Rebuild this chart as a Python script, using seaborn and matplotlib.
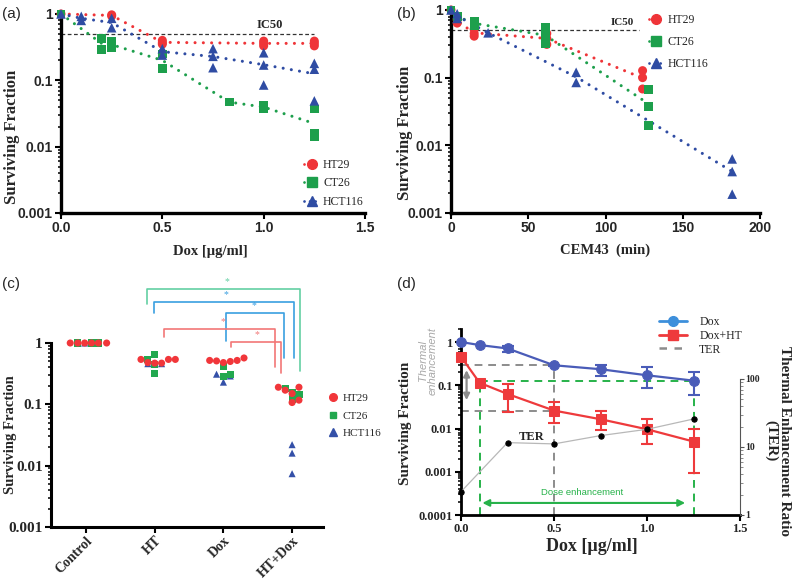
import numpy as np
import pandas as pd
import matplotlib.pyplot as plt
import seaborn as sns
from matplotlib.lines import Line2D
from matplotlib.ticker import FixedLocator, NullFormatter

# ---------------- data ----------------
# (a) surviving fraction vs doxorubicin dose
a_ht29_dose = [0, 0.25, 0.25, 0.5, 0.5, 0.5, 1.0, 1.0, 1.0, 1.25, 1.25, 1.25]
a_ht29_sf = [1.0, 0.97, 0.93, 0.40, 0.37, 0.35, 0.39, 0.36, 0.33, 0.39, 0.36, 0.33]
a_ct26_dose = [0, 0.2, 0.2, 0.25, 0.25, 0.5, 0.5, 0.83, 1.0, 1.0, 1.25, 1.25, 1.25]
a_ct26_sf = [1.0, 0.43, 0.29, 0.38, 0.31, 0.25, 0.15, 0.047, 0.042, 0.037, 0.037, 0.016, 0.014]
a_hct_dose = [0, 0.1, 0.1, 0.25, 0.25, 0.5, 0.5, 0.75, 0.75, 0.75, 1.0, 1.0, 1.0, 1.25, 1.25, 1.25]
a_hct_sf = [1.0, 0.92, 0.80, 0.86, 0.62, 0.30, 0.24, 0.30, 0.23, 0.155, 0.26, 0.17, 0.085, 0.18, 0.147, 0.049]

# (b) surviving fraction vs thermal dose (CEM43 minutes)
b_ht29_t = [0, 4, 4, 15, 15, 15, 62, 62, 62, 124, 124, 124]
b_ht29_sf = [1.0, 0.72, 0.64, 0.52, 0.45, 0.41, 0.45, 0.38, 0.31, 0.127, 0.10, 0.068]
b_ct26_t = [0, 4, 15, 15, 61, 61, 61, 61, 128, 128, 128]
b_ct26_sf = [1.0, 0.80, 0.69, 0.58, 0.55, 0.45, 0.37, 0.32, 0.066, 0.037, 0.0196]
b_hct_t = [0, 4, 4, 24, 81, 81, 182, 182, 182]
b_hct_sf = [1.0, 0.88, 0.75, 0.46, 0.12, 0.085, 0.0063, 0.0041, 0.0019]

ic50 = 0.5

# (c) treatment groups
c_groups = ['Control', 'HT', 'Dox', 'HT+Dox']
c_ht29_grp = ['Control'] * 6 + ['HT'] * 6 + ['Dox'] * 6 + ['HT+Dox'] * 6
c_ht29_sf = [1, 1, 1, 1, 1, 1,
             0.54, 0.48, 0.47, 0.47, 0.54, 0.54,
             0.52, 0.51, 0.48, 0.50, 0.52, 0.57,
             0.19, 0.17, 0.15, 0.19, 0.107, 0.117]
c_ct26_grp = ['Control'] * 3 + ['HT'] * 4 + ['Dox'] * 3 + ['HT+Dox'] * 4
c_ct26_sf = [1, 1, 1,
             0.53, 0.65, 0.44, 0.32,
             0.42, 0.28, 0.31,
             0.18, 0.155, 0.145, 0.12]
c_hct_grp = ['Control'] * 3 + ['HT'] * 3 + ['Dox'] * 3 + ['HT+Dox'] * 3
c_hct_sf = [1, 1, 1,
            0.46, 0.45, 0.46,
            0.31, 0.23, 0.29,
            0.022, 0.016, 0.0074]

# horizontal scatter offsets of the dots inside each group (layout only)
c_ht29_off = [-0.23, -0.12, -0.02, 0.08, 0.18, 0.3,
              -0.2, -0.1, 0, 0.1, 0.2, 0.3,
              -0.2, -0.1, 0, 0.1, 0.2, 0.3,
              -0.2, -0.1, 0, 0.1, 0, 0.1]
c_ct26_off = [-0.12, 0.08, 0.18, -0.1, 0, 0, 0, 0, 0, 0.1, -0.1, 0, 0.1, 0]
c_hct_off = [-0.12, -0.02, 0.08, -0.1, 0, 0.1, -0.1, 0, 0.1, 0, 0, 0]

# (d) Dox alone vs Dox + hyperthermia, HT29
d_dose = [0, 0.1, 0.25, 0.5, 0.75, 1.0, 1.25]
d_dox = [1.0, 0.85, 0.71, 0.29, 0.235, 0.17, 0.128]
d_dox_lo = [1.0, 0.85, 0.60, 0.28, 0.16, 0.085, 0.059]
d_dox_hi = [1.0, 0.85, 0.81, 0.30, 0.30, 0.26, 0.20]
d_doxht = [0.46, 0.114, 0.063, 0.026, 0.0164, 0.0096, 0.005]
d_doxht_lo = [0.46, 0.114, 0.0235, 0.0137, 0.009, 0.0044, 0.00093]
d_doxht_hi = [0.46, 0.114, 0.107, 0.042, 0.025, 0.0165, 0.0098]
d_ter_dose = [0, 0.25, 0.5, 0.75, 1.0, 1.25]
d_ter = [2.2, 11.6, 11.1, 14.7, 18.2, 25.8]

# ---------------- style ----------------
sns.set_theme(style='ticks')
plt.rcParams['font.family'] = ['Liberation Serif', 'DejaVu Serif']

RED = '#ef3438'
GREEN = '#1d9f4c'
BLUE = '#2f4ca3'
DOT = (0, (0.01, 2.7))

SANS_B = dict(fontfamily='Liberation Sans', fontweight='bold', fontsize=10)


def minor_ticks(lo_exp, hi_exp):
    # minor log ticks 2..9 for each decade between 10**lo_exp and 10**hi_exp
    return [k * 10.0 ** e for e in range(lo_exp, hi_exp) for k in range(2, 10)]


def log_axis(ax, ticks, labels, font, lo, hi, lo_exp, hi_exp):
    ax.set_yscale('log')
    ax.set_yticks(ticks, labels, **font)
    ax.yaxis.set_minor_locator(FixedLocator(minor_ticks(lo_exp, hi_exp)))
    ax.yaxis.set_minor_formatter(NullFormatter())
    ax.set_ylim(lo, hi)


def spines(ax, lw):
    sns.despine(ax=ax)
    for s in ['left', 'bottom']:
        ax.spines[s].set_linewidth(lw)
        ax.spines[s].set_color('black')
    ax.tick_params(which='major', length=4, width=1.5, color='black', pad=2)
    ax.tick_params(which='minor', length=2.5, width=1.1, color='black')


fig = plt.figure(figsize=(8, 5.79), dpi=100)
W, H = 800, 579
ax_a = fig.add_axes([61 / W, 1 - 213 / H, 304 / W, 201 / H])
ax_b = fig.add_axes([451 / W, 1 - 213 / H, 309 / W, 205 / H])
ax_c = fig.add_axes([51 / W, 1 - 527 / H, 272 / W, 257 / H])
ax_d = fig.add_axes([461 / W, 1 - 515 / H, 279 / W, 186 / H])

# ---------------- (a) and (b) ----------------
panels = [
    (ax_a, [(a_ht29_dose, a_ht29_sf, RED, 'o', 42),
            (a_ct26_dose, a_ct26_sf, GREEN, 's', 40),
            (a_hct_dose, a_hct_sf, BLUE, '^', 48)]),
    (ax_b, [(b_ht29_t, b_ht29_sf, RED, 'o', 42),
            (b_ct26_t, b_ct26_sf, GREEN, 's', 40),
            (b_hct_t, b_hct_sf, BLUE, '^', 48)]),
]
for ax, series in panels:
    for x, y, col, mk, s in series:
        # dotted line through the group means
        sns.lineplot(x=x, y=y, estimator='mean', errorbar=None, color=col,
                     lw=2.2, linestyle=DOT, dash_capstyle='round', ax=ax, zorder=2)
    for x, y, col, mk, s in series:
        sns.scatterplot(x=x, y=y, marker=mk, s=s, color=col, edgecolor='none',
                        clip_on=False, ax=ax, zorder=3)
    log_axis(ax, [1, 0.1, 0.01, 0.001], ['1', '0.1', '0.01', '0.001'], SANS_B,
             0.001, 1.07, -3, 0)
    spines(ax, 2.4)
    ax.set_ylabel('Surviving Fraction', fontsize=12, fontweight='bold')

ax_a.hlines(ic50, 0, max(a_hct_dose), colors='#333333', lw=0.9, linestyles=(0, (3, 2)), zorder=1)
ax_a.text(1.03, ic50 * 1.12, 'IC50', fontsize=9, fontweight='bold', ha='center', va='bottom')
ax_a.set_xlim(0, 1.5)
ax_a.set_xticks([0, 0.5, 1.0, 1.5], ['0.0', '0.5', '1.0', '1.5'], **SANS_B)
ax_a.set_xlabel('Dox [µg/ml]', fontsize=10.5, fontweight='bold')
ax_a.yaxis.set_label_coords(-0.136, 0.38)
ax_a.xaxis.set_label_coords(0.49, -0.16)

ax_b.hlines(ic50, 0, 122, colors='#333333', lw=0.9, linestyles=(0, (3, 2)), zorder=1)
ax_b.text(111, ic50 * 1.12, 'IC50', fontsize=8, fontweight='bold', ha='center', va='bottom')
ax_b.set_xlim(0, 200)
ax_b.set_xticks([0, 50, 100, 150, 200], ['0', '50', '100', '150', '200'], **SANS_B)
ax_b.set_xlabel('CEM43  (min)', fontsize=10.5, fontweight='bold')
ax_b.yaxis.set_label_coords(-0.123, 0.39)
ax_b.xaxis.set_label_coords(0.498, -0.147)


def line_handle(col, mk, ms):
    return Line2D([], [], color=col, marker=mk, ms=ms, mec=col, lw=2,
                  linestyle=(0, (0.01, 2)), dash_capstyle='round')


names = ['HT29', 'CT26', 'HCT116']
h_ab = [line_handle(RED, 'o', 7), line_handle(GREEN, 's', 6.5), line_handle(BLUE, '^', 7)]
ax_a.legend(h_ab, names, loc='upper left', bbox_to_anchor=(0.80, 0.27), frameon=False,
            fontsize=8.5, handlelength=1.3, handletextpad=0.3, labelspacing=0.55,
            borderpad=0, borderaxespad=0)
ax_b.legend(h_ab, names, loc='upper left', bbox_to_anchor=(0.64, 0.97), frameon=False,
            fontsize=8.5, handlelength=1.3, handletextpad=0.3, labelspacing=0.85,
            borderpad=0, borderaxespad=0)

# ---------------- (c) ----------------
df_c = pd.concat([
    pd.DataFrame({'line': 'HCT116', 'group': c_hct_grp, 'sf': c_hct_sf, 'off': c_hct_off}),
    pd.DataFrame({'line': 'CT26', 'group': c_ct26_grp, 'sf': c_ct26_sf, 'off': c_ct26_off}),
    pd.DataFrame({'line': 'HT29', 'group': c_ht29_grp, 'sf': c_ht29_sf, 'off': c_ht29_off}),
], ignore_index=True)
df_c['x'] = df_c['group'].map({g: i for i, g in enumerate(c_groups)}) + df_c['off']

C_RED, C_GREEN, C_BLUE = '#f1363a', '#22a84f', '#3450a8'
sns.scatterplot(data=df_c, x='x', y='sf', hue='line', style='line',
                palette={'HT29': C_RED, 'CT26': C_GREEN, 'HCT116': C_BLUE},
                markers={'HT29': 'o', 'CT26': 's', 'HCT116': '^'},
                s=26, edgecolor='none', legend=False, ax=ax_c, zorder=3)

ax_c.set_xlim(-0.51, 3.45)
log_axis(ax_c, [1, 0.1, 0.01, 0.001], ['1', '0.1', '0.01', '0.001'],
         dict(fontweight='bold', fontsize=11), 0.001, 15.5, -3, 0)
spines(ax_c, 2.2)
ax_c.spines['left'].set_bounds(0.001, 1)
ax_c.set_xticks(range(len(c_groups)), c_groups, rotation=45, ha='right',
                rotation_mode='anchor', fontweight='bold', fontsize=10)
ax_c.tick_params(axis='x', pad=1)
ax_c.set_xlabel('')
ax_c.set_ylabel('Surviving Fraction', fontsize=10.5, fontweight='bold')
ax_c.yaxis.set_label_coords(-0.125, 0.358)

# significance brackets (group position, level)
br_x0 = [0.89, 0.99, 2.04, 1.14, 2.11]
br_x1 = [3.12, 3.03, 2.88, 2.75, 2.84]
br_top = [7.5, 4.66, 3.1, 1.69, 1.04]
br_y0 = [4.4, 3.1, 1.08, 1.25, 0.86]
br_y1 = [0.35, 0.57, 0.57, 0.41, 0.32]
br_col = ['#63cfa3', '#3a9fe0', '#3a9fe0', '#f27777', '#f27777']
star_x = [2.05, 2.04, 2.45, 2.0, 2.49]
for x0, x1, t, y0, y1, col, sx in zip(br_x0, br_x1, br_top, br_y0, br_y1, br_col, star_x):
    ax_c.plot([x0, x0, x1, x1], [y0, t, t, y1], color=col, lw=1.2, clip_on=False)
    ax_c.text(sx, t * 1.12, '*', color=col, fontsize=7, ha='center', va='bottom')

h_c = [Line2D([], [], color=C_RED, marker='o', ms=5.5, lw=0),
       Line2D([], [], color=C_GREEN, marker='s', ms=5, lw=0),
       Line2D([], [], color=C_BLUE, marker='^', ms=5.5, lw=0)]
ax_c.legend(h_c, names, loc='upper left', bbox_to_anchor=(1.02, 0.52), frameon=False,
            fontsize=8, handlelength=0.8, handletextpad=0.5, labelspacing=0.7,
            borderpad=0, borderaxespad=0)

# ---------------- (d) ----------------
D_BLUE, D_RED, GREY, D_GREEN = '#4a5cb8', '#ee3a3c', '#8c8c8c', '#27b24a'
ax_d.set_yscale('log')
ax2 = ax_d.twinx()

# helper guide lines
ax_d.vlines(d_dose[3], 1e-4, d_dox[3], colors=GREY, lw=1.4, linestyles=(0, (4, 3)), zorder=1)
ax_d.hlines([d_dox[3], d_doxht[3]], 0, d_dose[3], colors=GREY, lw=1.4,
            linestyles=(0, (4, 3)), zorder=1)
ax_d.vlines([d_dose[1], d_dose[-1]], 1e-4, d_dox[-1], colors=D_GREEN, lw=1.4,
            linestyles=(0, (4, 3)), zorder=1)
ax_d.hlines(d_dox[-1], d_dose[1], d_dose[-1], colors=D_GREEN, lw=1.4,
            linestyles=(0, (4, 3)), zorder=1)
ax_d.annotate('', xy=(0.03, 0.039), xytext=(0.03, 0.26),
              arrowprops=dict(arrowstyle='<|-|>', color=GREY, lw=1.6, mutation_scale=9))
ax_d.annotate('', xy=(0.1, 1.9e-4), xytext=(1.22, 1.9e-4),
              arrowprops=dict(arrowstyle='<|-|>', color=D_GREEN, lw=1.5, mutation_scale=10))
ax_d.text(0.65, 3.3e-4, 'Dose enhancement', color=D_GREEN, fontsize=6.8,
          fontfamily='Liberation Sans', ha='center', va='center')
ax_d.text(-0.118, 0.83, 'Thermal\nenhancement', transform=ax_d.transAxes, rotation=90,
          color='#a8a8a8', fontsize=8, fontstyle='italic', fontfamily='Liberation Sans',
          ha='center', va='center', linespacing=0.95)

dy = np.array(d_dox)
ax_d.errorbar(d_dose[2:], dy[2:], yerr=[dy[2:] - np.array(d_dox_lo[2:]), np.array(d_dox_hi[2:]) - dy[2:]],
              fmt='none', ecolor=D_BLUE, elinewidth=1.5, capsize=4, capthick=1.5, zorder=3)
ry = np.array(d_doxht)
ax_d.errorbar(d_dose[2:], ry[2:], yerr=[ry[2:] - np.array(d_doxht_lo[2:]), np.array(d_doxht_hi[2:]) - ry[2:]],
              fmt='none', ecolor=D_RED, elinewidth=1.5, capsize=4, capthick=1.5, zorder=3)
sns.lineplot(x=d_dose, y=d_dox, color=D_BLUE, lw=1.6, marker='o', ms=7, mec=D_BLUE,
             ax=ax_d, zorder=4, clip_on=False)
sns.lineplot(x=d_dose, y=d_doxht, color=D_RED, lw=1.6, marker='s', ms=7, mec=D_RED,
             ax=ax_d, zorder=4, clip_on=False)

log_axis(ax_d, [1, 0.1, 0.01, 0.001, 0.0001], ['1', '0.1', '0.01', '0.001', '0.0001'],
         dict(fontweight='bold', fontsize=9), 1e-4, 2.0, -4, 1)
ax_d.set_xlim(0, 1.5)
ax_d.set_xticks([0, 0.5, 1.0, 1.5], ['0.0', '0.5', '1.0', '1.5'], fontweight='bold', fontsize=9)
spines(ax_d, 2.0)
ax_d.set_xlabel('Dox [µg/ml]', fontsize=13, fontweight='bold')
ax_d.set_ylabel('Surviving Fraction', fontsize=11, fontweight='bold')
ax_d.yaxis.set_label_coords(-0.176, 0.49)
ax_d.xaxis.set_label_coords(0.47, -0.124)

# thermal enhancement ratio on the right axis
sns.lineplot(x=d_ter_dose, y=d_ter, color='#b8b8b8', lw=0.9, marker='o', ms=3.8,
             mfc='black', mec='black', ax=ax2, zorder=2, clip_on=False)
ax2.set_yscale('log')
ax2.set_ylim(1, 543)
ax2.set_yticks([1, 10, 100], ['1', '10', '100'], fontweight='bold', fontsize=7)
ax2.yaxis.set_minor_locator(FixedLocator(minor_ticks(0, 2)))
ax2.yaxis.set_minor_formatter(NullFormatter())
for s in ['top', 'left', 'bottom']:
    ax2.spines[s].set_visible(False)
ax2.spines['right'].set_bounds(1, 100)
ax2.spines['right'].set_linewidth(0.8)
ax2.spines['right'].set_color('#555555')
ax2.tick_params(which='major', length=3, width=0.8, color='#555555', pad=1)
ax2.tick_params(which='minor', length=1.8, width=0.6, color='#777777')
ax2.set_ylabel('')
ax2.text(0.38, 14, 'TER', fontsize=9, fontweight='bold', ha='center', va='center')
ax2.text(1.136, 0.40, 'Thermal Enhancement Ratio\n(TER)', transform=ax_d.transAxes,
         rotation=270, fontsize=11, fontweight='bold', ha='center', va='center',
         linespacing=1.05, multialignment='center')

h_d = [Line2D([], [], color='#3d8fdb', marker='o', ms=7, lw=2),
       Line2D([], [], color=D_RED, marker='s', ms=7, lw=2),
       Line2D([], [], color='#8c8c8c', lw=1.8, linestyle=(0, (3, 3)))]
ax_d.legend(h_d, ['Dox', 'Dox+HT', 'TER'], loc='upper left', bbox_to_anchor=(0.71, 1.07),
            frameon=False, fontsize=8.5, handlelength=2.4, handletextpad=1.0,
            labelspacing=0.15, borderpad=0, borderaxespad=0)

# panel letters
for x, y, lab in [(2, 14, '(a)'), (397, 14, '(b)'), (2, 284, '(c)'), (397, 284, '(d)')]:
    fig.text(x / W, 1 - y / H, lab, fontfamily='Liberation Sans', fontsize=11,
             ha='left', va='center')

fig.savefig('out.png', dpi=100)
